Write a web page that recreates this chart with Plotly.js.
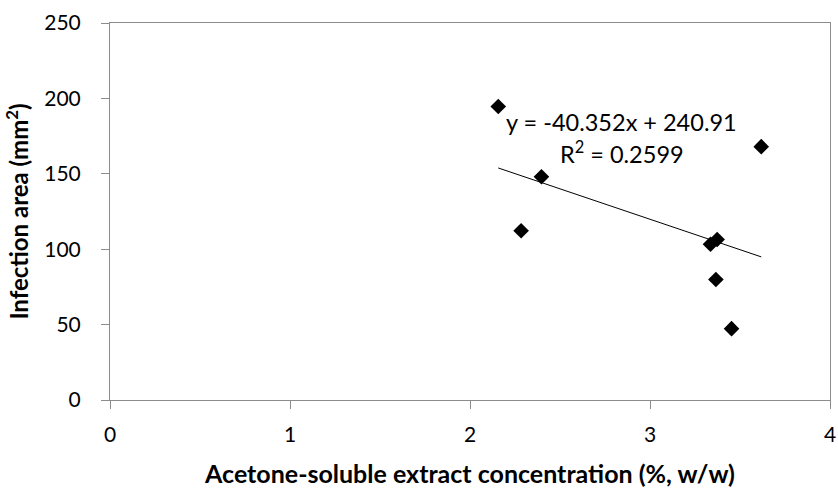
<!DOCTYPE html>
<html>
<head>
<meta charset="utf-8">
<script src="https://cdn.plot.ly/plotly-3.0.1.min.js"></script>
<style>html,body{margin:0;padding:0;background:#fff;}#chart{width:838px;height:488px;}</style>
</head>
<body>
<div id="chart"></div>
<script>
// Data
const extractConc = [2.157, 2.284, 2.397, 3.336, 3.373, 3.366, 3.453, 3.618];
const infectionArea = [194.6, 112.2, 148.0, 103.3, 106.4, 79.9, 47.3, 168.0];
const trendSlope = -40.352;
const trendIntercept = 240.91;
const equationText = "y = -40.352x + 240.91";
const r2Text = "R<sup>2</sup> = 0.2599";
const xTicks = [0, 1, 2, 3, 4];
const yTicks = [0, 50, 100, 150, 200, 250];

const xMin = Math.min(...extractConc);
const xMax = Math.max(...extractConc);
const trendX = [xMin, xMax];
const trendY = trendX.map(x => trendSlope * x + trendIntercept);

const FONT = "Lato, 'Open Sans', sans-serif";

const data = [
  {
    x: trendX, y: trendY, type: 'scatter', mode: 'lines',
    line: {color: '#000', width: 1}, hoverinfo: 'skip', showlegend: false
  },
  {
    x: extractConc, y: infectionArea, type: 'scatter', mode: 'markers',
    marker: {symbol: 'diamond', size: 12, color: '#000'}, showlegend: false
  }
];

const layout = {
  width: 838, height: 488,
  margin: {l: 109.5, r: 7.5, t: 23, b: 88, pad: 0},
  paper_bgcolor: '#fff', plot_bgcolor: '#fff',
  font: {family: FONT, size: 21, color: '#000'},
  showlegend: false,
  xaxis: {
    range: [0, 4], tickvals: xTicks, ticktext: xTicks.map(String),
    showgrid: false, zeroline: false,
    showline: true, linecolor: '#8c8c8c', linewidth: 1, mirror: true,
    ticks: 'outside', ticklen: 8, tickcolor: '#8c8c8c', tickwidth: 1,
    ticklabelstandoff: 8,
    tickfont: {family: FONT, size: 21, color: '#000'},
    title: {text: 'Acetone-soluble extract concentration (%, w/w)',
            font: {family: FONT, size: 25, color: '#000', weight: 'bold'}, standoff: 22}
  },
  yaxis: {
    range: [0, 250], tickvals: yTicks, ticktext: yTicks.map(String),
    showgrid: false, zeroline: false,
    showline: true, linecolor: '#8c8c8c', linewidth: 1, mirror: true,
    ticks: 'outside', ticklen: 8, tickcolor: '#8c8c8c', tickwidth: 1,
    ticklabelstandoff: 16,
    tickfont: {family: FONT, size: 21, color: '#000'},
    title: {text: 'Infection area (mm<sup>2</sup>)',
            font: {family: FONT, size: 24, color: '#000', weight: 'bold'}, standoff: 8}
  },
  annotations: [
    {x: 2.842, y: 184.5, xref: 'x', yref: 'y', text: equationText, showarrow: false,
     font: {family: FONT, size: 23.5, color: '#000'}, xanchor: 'center', yanchor: 'middle'},
    {x: 2.842, y: 164.0, xref: 'x', yref: 'y', text: r2Text, showarrow: false,
     font: {family: FONT, size: 23.5, color: '#000'}, xanchor: 'center', yanchor: 'middle'}
  ]
};

Plotly.newPlot('chart', data, layout, {displayModeBar: false, staticPlot: true});
</script>
</body>
</html>
